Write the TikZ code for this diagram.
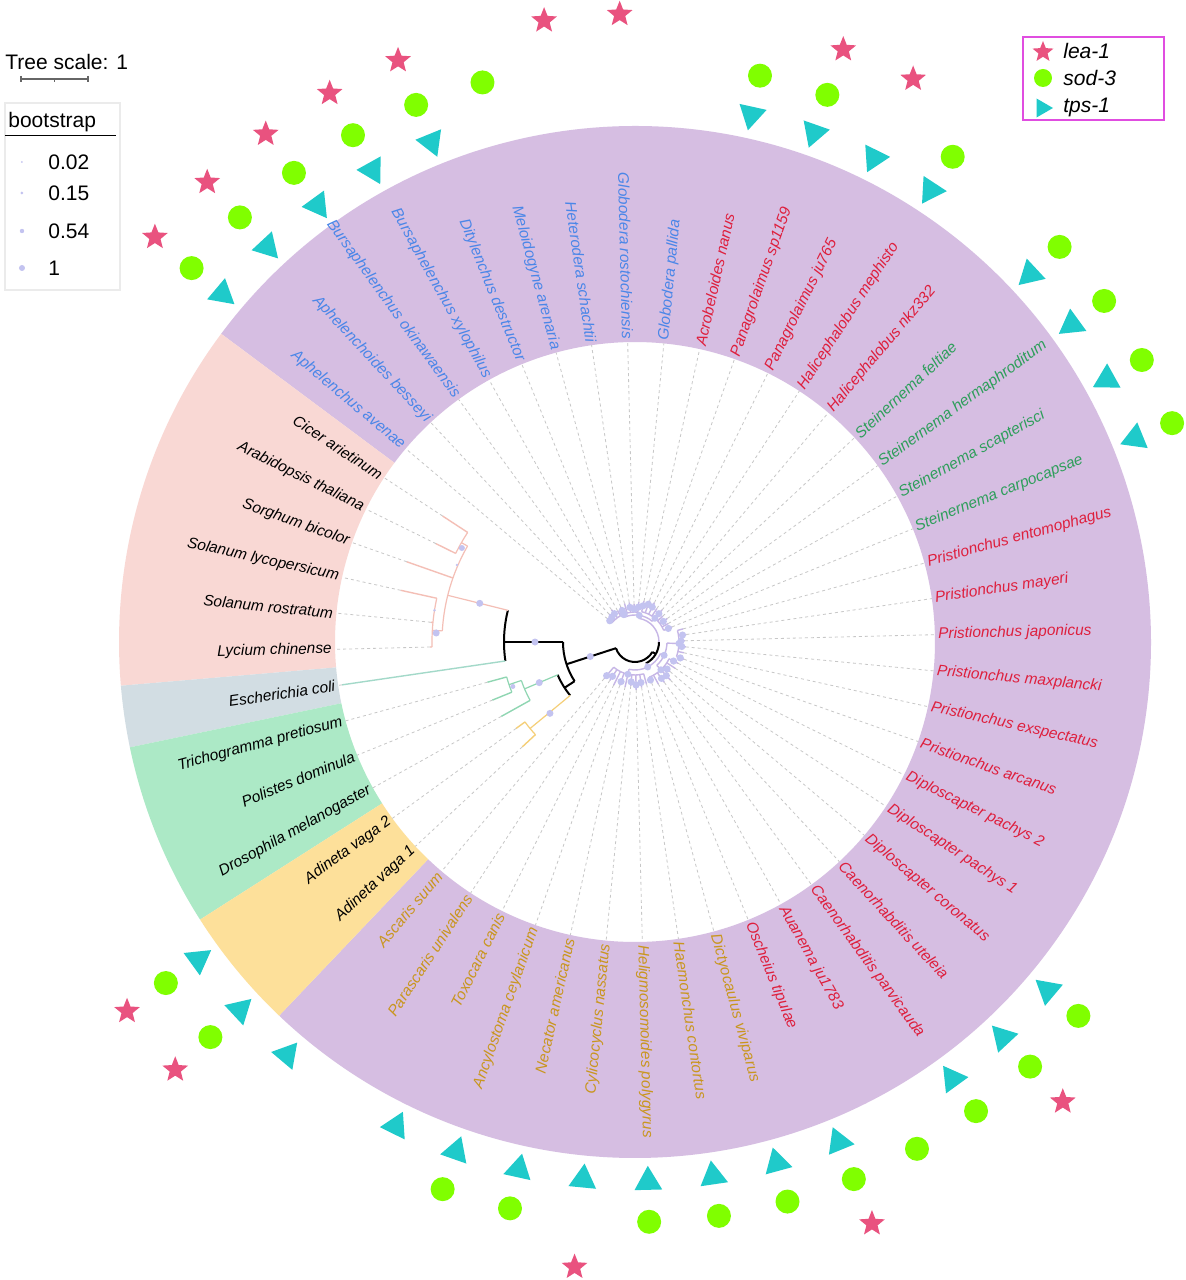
\documentclass[tikz,border=0pt]{standalone}
\usepackage{fontspec}
\setmainfont{Liberation Sans}
\usetikzlibrary{shapes.geometric}

\definecolor{ringpurple}{HTML}{D6BEE2}
\definecolor{ringpink}{HTML}{F9D8D4}
\definecolor{ringgrey}{HTML}{D2DDE3}
\definecolor{ringgreen}{HTML}{ACE9C6}
\definecolor{ringyellow}{HTML}{FDE09A}
\definecolor{labblue}{HTML}{4A86E8}
\definecolor{labred}{HTML}{DE1F3D}
\definecolor{labgreen}{HTML}{2E9E5B}
\definecolor{labgold}{HTML}{C9961F}
\definecolor{brpink}{HTML}{F4BFB6}
\definecolor{brgreen}{HTML}{8FD6B2}
\definecolor{bryellow}{HTML}{F5CF78}
\definecolor{brteal}{HTML}{A3D9C9}
\definecolor{brlav}{HTML}{C6B6E6}
\definecolor{boot}{HTML}{C3C3F0}
\definecolor{starpink}{HTML}{E9527F}
\definecolor{dotgreen}{HTML}{80FF00}
\definecolor{tricyan}{HTML}{1FCACA}
\definecolor{legmag}{HTML}{E04DE0}

\newcommand{\labfont}{\fontsize{7.7}{9}\selectfont\itshape}
\newcommand{\legfont}{\fontsize{10.5}{12}\selectfont}
\newcommand{\ringsector}[3]{\fill[#1] (#2:300) arc[start angle=#2,end angle=#3,radius=300] -- (#3:516) arc[start angle=#3,end angle=#2,radius=516] -- cycle;}
\newcommand{\treestem}[4]{\draw[#1] (#2:#3) -- (#2:#4);}
\newcommand{\cladearc}[4]{\draw[#1] (#2:#4) arc[start angle=#2,end angle=#3,radius=#4];}
\newcommand{\bootdot}[3]{\fill[boot] (#1:#2) circle[radius=#3];}

\begin{document}
\begin{tikzpicture}[x=0.5pt,y=0.5pt,
  leaflab/.style={font=\labfont, inner sep=1.5pt},
  guide/.style={draw=black!22, line width=0.4pt, dash pattern=on 1.5pt off 1.5pt},
  tpsmark/.style={regular polygon, regular polygon sides=3, fill=tricyan, inner sep=0pt, minimum size=16pt},
  sodmark/.style={circle, fill=dotgreen, inner sep=0pt, minimum size=12pt},
  leamark/.style={star, star points=5, star point ratio=2.3, fill=starpink, inner sep=0pt, minimum size=13.5pt},
  blk/.style={black, line width=1pt},
  nem/.style={brlav, line width=0.7pt},
  legtext/.style={font=\legfont, inner sep=0pt}]

\fill[white] (-635,-638) rectangle (550,642);
\useasboundingbox (-635,-638) rectangle (550,642);

% clade ring
\ringsector{ringpurple}{-133.6}{143.32}
\ringsector{ringpink}{143.32}{184.86}
\ringsector{ringgrey}{184.86}{191.78}
\ringsector{ringgreen}{191.78}{212.55}
\ringsector{ringyellow}{212.55}{226.4}

% inner tree
\cladearc{blk}{198}{330}{20}
\treestem{blk}{198}{20}{72}
\treestem{blk}{330}{20}{24}
\cladearc{blk}{-63}{0}{24}
\cladearc{nem}{0}{81}{24}
\cladearc{blk}{180}{213}{72}
\treestem{blk}{180}{72}{131}
\cladearc{blk}{166}{188.323}{131}
\treestem{blk}{213}{72}{84}
\cladearc{blk}{203}{219.5}{84}

\treestem{nem}{81}{24}{27}
\cladearc{nem}{50}{112}{27}
\treestem{nem}{112}{27}{30}
\cladearc{nem}{84.477}{139.862}{30}
\treestem{nem}{50}{27}{31}
\cladearc{nem}{22.169}{77.554}{31}
\treestem{nem}{-63}{24}{28}
\cladearc{nem}{-102.4}{-24.5}{28}
\treestem{nem}{-24.5}{28}{32}
\cladearc{nem}{-47}{-2}{32}
\treestem{nem}{-2}{32}{44}
\cladearc{nem}{-19.369}{15.246}{44}
\treestem{nem}{-47}{32}{38}
\cladearc{nem}{-67.831}{-26.292}{38}
\treestem{nem}{-102.4}{28}{33}
\cladearc{nem}{-130.138}{-74.754}{33}

\treestem{brpink, line width=0.6pt}{166}{131}{193}
\cladearc{brpink, line width=0.6pt}{150.2}{176.7}{193}
\treestem{brpink, line width=0.6pt}{150.2}{193}{200}
\cladearc{brpink, line width=0.6pt}{146.785}{153.708}{200}
\treestem{brpink, line width=0.6pt}{176.7}{193}{203}
\cladearc{brpink, line width=0.6pt}{167.554}{181.4}{203}
\treestem{brgreen, line width=0.6pt}{203}{84}{120}
\cladearc{brgreen, line width=0.6pt}{198.7}{209.092}{120}
\treestem{brgreen, line width=0.6pt}{198.7}{120}{133}
\cladearc{brgreen, line width=0.6pt}{195.246}{202.169}{133}
\treestem{bryellow, line width=0.6pt}{219.5}{84}{136}
\cladearc{bryellow, line width=0.6pt}{216.015}{222.938}{136}

% leaves, guides and labels
\foreach \i/\name/\col/\tip/\pr/\bc in {
  1/Globodera rostochiensis/labblue/38/30/brlav,
  2/Globodera pallida/labblue/40/30/brlav,
  3/Acrobeloides nanus/labred/42/31/brlav,
  4/Panagrolaimus sp1159/labred/44/31/brlav,
  5/Panagrolaimus ju765/labred/44/31/brlav,
  6/Halicephalobus mephisto/labred/40/31/brlav,
  7/Halicephalobus nkz332/labred/42/31/brlav,
  8/Steinernema feltiae/labgreen/38/31/brlav,
  9/Steinernema hermaphroditum/labgreen/40/31/brlav,
  10/Steinernema scapterisci/labgreen/38/31/brlav,
  11/Steinernema carpocapsae/labgreen/40/31/brlav,
  12/Pristionchus entomophagus/labred/50/44/brlav,
  13/Pristionchus mayeri/labred/52/44/brlav,
  14/Pristionchus japonicus/labred/50/44/brlav,
  15/Pristionchus maxplancki/labred/51/44/brlav,
  16/Pristionchus exspectatus/labred/50/44/brlav,
  17/Pristionchus arcanus/labred/52/44/brlav,
  18/Diploscapter pachys 2/labred/48/38/brlav,
  19/Diploscapter pachys 1/labred/48/38/brlav,
  20/Diploscapter coronatus/labred/46/38/brlav,
  21/Caenorhabditis uteleia/labred/52/38/brlav,
  22/Caenorhabditis parvicauda/labred/50/38/brlav,
  23/Auanema ju1783/labred/48/38/brlav,
  24/Oscheius tipulae/labred/44/38/brlav,
  25/Dictyocaulus viviparus/labgold/44/33/brlav,
  26/Haemonchus contortus/labgold/46/33/brlav,
  27/Heligmosomoides polygyrus/labgold/48/33/brlav,
  28/Cylicocyclus nassatus/labgold/44/33/brlav,
  29/Necator americanus/labgold/46/33/brlav,
  30/Ancylostoma ceylanicum/labgold/46/33/brlav,
  31/Toxocara canis/labgold/48/33/brlav,
  32/Parascaris univalens/labgold/46/33/brlav,
  33/Ascaris suum/labgold/48/33/brlav,
  34/Adineta vaga 1/black/154/136/bryellow,
  35/Adineta vaga 2/black/147/136/bryellow,
  36/Drosophila melanogaster/black/153/120/brgreen,
  37/Polistes dominula/black/154/133/brgreen,
  38/Trichogramma pretiosum/black/153/133/brgreen,
  39/Escherichia coli/black/296/131/brteal,
  40/Lycium chinense/black/205/203/brpink,
  41/Solanum rostratum/black/205/203/brpink,
  42/Solanum lycopersicum/black/240/203/brpink,
  43/Sorghum bicolor/black/242/193/brpink,
  44/Arabidopsis thaliana/black/222/200/brpink,
  45/Cicer arietinum/black/230/200/brpink,
  46/Aphelenchus avenae/labblue/36/30/brlav,
  47/Aphelenchoides besseyi/labblue/38/30/brlav,
  48/Bursaphelenchus okinawaensis/labblue/40/30/brlav,
  49/Bursaphelenchus xylophilus/labblue/36/30/brlav,
  50/Ditylenchus destructor/labblue/38/30/brlav,
  51/Meloidogyne arenaria/labblue/40/30/brlav,
  52/Heterodera schachtii/labblue/40/30/brlav}{
  \pgfmathsetmacro\a{91.4-(\i-1)*6.9230769}
  \pgfmathtruncatemacro\flip{cos(\a)<0 ? 1 : 0}
  \coordinate (t\i) at (\a:\tip);
  \draw[\bc, line width=0.7pt] (\a:\pr) -- (t\i);
  \ifnum\flip=1
    \node[leaflab, text=\col, anchor=east, rotate=\a+180] (l\i) at (\a:300) {\name};
    \draw[guide] (t\i) -- (l\i.east);
  \else
    \node[leaflab, text=\col, anchor=west, rotate=\a] (l\i) at (\a:300) {\name};
    \draw[guide] (t\i) -- (l\i.west);
  \fi
}

% bootstrap support
\bootdot{198}{47}{3.5}
\bootdot{180}{100}{3.5}
\bootdot{166}{160}{3.5}
\bootdot{151.5}{197}{3}
\bootdot{156.6}{194}{1.3}
\bootdot{177.4}{199}{3.5}
\bootdot{171}{203}{1.3}
\bootdot{203}{104}{3.5}
\bootdot{200}{130}{2.5}
\bootdot{220}{111}{3.5}
\bootdot{112}{30}{4}
\bootdot{50}{31}{3.5}
\bootdot{81}{27}{3.5}
\bootdot{-2}{44}{3.5}
\bootdot{-47}{38}{3.5}
\bootdot{-24.5}{32}{3.5}
\bootdot{-102.4}{33}{3.5}
\bootdot{-63}{28}{3.5}
\foreach \i/\r in {1/33,2/35,3/37,4/40,5/39,7/37,9/35,11/36,13/48,14/46,15/47,17/48,18/43,20/42,21/46,22/45,24/41,
  26/41,27/43,28/40,30/42,32/41,33/44,46/33,47/34,48/35,50/34,52/35}{
  \pgfmathsetmacro\a{91.4-(\i-1)*6.9230769}
  \bootdot{\a}{\r}{3.6}
}

% gene markers
\foreach \i in {3,4,5,6,8,9,10,11,20,21,22,24,25,26,27,28,29,30,31,33,34,35,46,47,48,49,50}{
  \pgfmathsetmacro\a{91.4-(\i-1)*6.9230769}
  \node[tpsmark, rotate=\a+90] (tri\i) at (\a:540) {};
}
\foreach \i in {3,4,6,8,9,10,11,20,21,22,23,24,25,26,27,29,30,34,35,46,47,48,49,50,51}{
  \pgfmathsetmacro\a{91.4-(\i-1)*6.9230769}
  \node[sodmark] (dot\i) at (\a:580) {};
}
\foreach \i in {1,4,5,21,24,28,34,35,46,47,48,49,50,52}{
  \pgfmathsetmacro\a{91.4-(\i-1)*6.9230769}
  \node[leamark] (star\i) at (\a:628) {};
}

% tree scale and bootstrap legend
\node[legtext, anchor=base west] (scaletxt) at (-630,572) {Tree scale: 1};
\draw[black!60, line width=0.6pt] (-614,563) -- (-547,563);
\draw[black!60, line width=0.6pt] (-614,566) -- (-614,560);
\draw[black!60, line width=0.6pt] (-547,566) -- (-547,560);
\draw[black!60, line width=0.6pt] (-580.5,563) -- (-580.5,560);
\draw[black!8, line width=0.6pt] (-630,352) rectangle (-515,539);
\node[legtext, anchor=base west] (boottitle) at (-627,514) {bootstrap};
\draw[black, line width=0.5pt] (-630,506) -- (-519,506);
\foreach \v/\y/\r in {0.02/480/1,0.15/449/1.5,0.54/411/2.2,1/374/3}{
  \fill[boot] (-613,\y) circle[radius=\r];
  \node[legtext, anchor=west] (boot\y) at (-587,\y) {\v};
}

% gene legend
\draw[legmag, line width=1pt] (388,522) rectangle (529,605);
\node[leamark, minimum size=11pt] (legstar) at (408,590) {};
\node[sodmark, minimum size=9pt] (legdot) at (408,564) {};
\node[tpsmark, minimum size=11pt, rotate=-90] (legtri) at (407,534) {};
\node[legtext, anchor=west, font=\legfont\itshape] (leglea) at (428,591) {lea-1};
\node[legtext, anchor=west, font=\legfont\itshape] (legsod) at (428,564) {sod-3};
\node[legtext, anchor=west, font=\legfont\itshape] (legtps) at (428,535) {tps-1};
\end{tikzpicture}
\end{document}
